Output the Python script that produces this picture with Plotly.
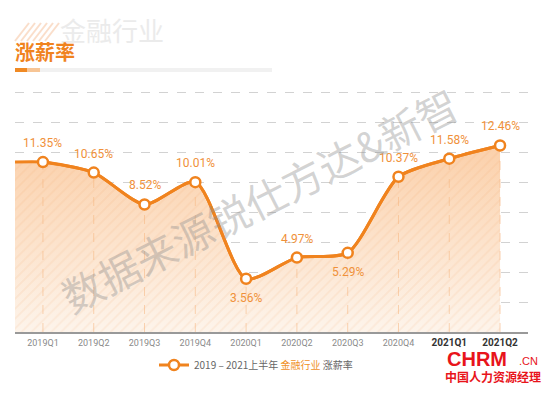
import plotly.graph_objects as go

quarters = ["2019Q1", "2019Q2", "2019Q3", "2019Q4", "2020Q1",
            "2020Q2", "2020Q3", "2020Q4", "2021Q1", "2021Q2"]
rates = [11.35, 10.65, 8.52, 10.01, 3.56, 4.97, 5.29, 10.37, 11.58, 12.46]
label_below = [False, False, False, False, True, False, True, False, False, False]
tick_labels = ["2019Q1", "2019Q2", "2019Q3", "2019Q4", "2020Q1",
               "2020Q2", "2020Q3", "2020Q4",
               "<span style='font-size:10px;color:#333'><b>2021Q1</b></span>",
               "<span style='font-size:10px;color:#333'><b>2021Q2</b></span>"]

ORANGE = "#f0831e"
LABEL_ORANGE = "#f0913a"
CJK = "Noto Sans CJK SC"

xs = list(range(len(quarters)))
x_left = -0.55
# line continues flat to the left edge of the plot
line_x = [x_left] + xs
line_y = [rates[0]] + rates

fig = go.Figure()

# gradient area
fig.add_trace(go.Scatter(
    x=line_x, y=line_y, mode="lines", line=dict(width=0, shape="spline", smoothing=0.7),
    fill="tozeroy",
    fillgradient=dict(type="vertical", start=0, stop=12.5,
                      colorscale=[[0, "rgba(253,244,235,1)"], [1, "rgba(251,208,170,1)"]]),
    showlegend=False, hoverinfo="skip"))

# hatch overlay
fig.add_trace(go.Scatter(
    x=line_x, y=line_y, mode="lines", line=dict(width=0, shape="spline", smoothing=0.7),
    fill="tozeroy", fillcolor="rgba(0,0,0,0)",
    fillpattern=dict(shape="/", fgcolor="rgba(240,150,80,0.22)", bgcolor="rgba(0,0,0,0)",
                     size=7, solidity=0.25),
    showlegend=False, hoverinfo="skip"))

# vertical dashed drop lines
vx, vy = [], []
for x, v in zip(xs, rates):
    vx += [x, x, None]
    vy += [0, v, None]
fig.add_trace(go.Scatter(x=vx, y=vy, mode="lines",
                         line=dict(color="rgba(245,180,125,0.55)", width=1, dash="dash"),
                         showlegend=False, hoverinfo="skip"))

# main line (legend entry)
fig.add_trace(go.Scatter(
    x=line_x, y=line_y, mode="lines", line=dict(color=ORANGE, width=3, shape="spline", smoothing=0.7),
    showlegend=False, hoverinfo="skip"))
fig.add_trace(go.Scatter(
    x=xs, y=rates, mode="lines+markers",
    line=dict(color=ORANGE, width=3, shape="spline", smoothing=0.7),
    marker=dict(size=10, color="white", line=dict(color=ORANGE, width=2.5)),
    name="2019 – 2021上半年 <span style='color:#f0901e'>金融行业</span> 涨薪率",
    showlegend=True))

for x, v, below in zip(xs, rates, label_below):
    fig.add_annotation(x=x, y=v, text=f"{v:.2f}%", showarrow=False,
                       yshift=-19 if below else 19,
                       font=dict(family="Roboto", size=12, color=LABEL_ORANGE))


def px_x(p):
    return (p - 15) / 513


def px_y(p):
    return (332 - p) / 241


# watermark diagonal
fig.add_annotation(xref="paper", yref="paper", x=px_x(259), y=px_y(199),
                   text="数据来源锐仕方达&新智", showarrow=False, textangle=-27,
                   font=dict(family=CJK, size=41, color="rgba(140,140,140,0.38)"))

# title block
fig.add_annotation(xref="paper", yref="paper", x=px_x(58), y=px_y(29),
                   xanchor="left", yanchor="middle", text="金融行业", showarrow=False,
                   font=dict(family=CJK, size=26, color="#ebebeb"))
fig.add_annotation(xref="paper", yref="paper", x=px_x(13), y=px_y(52),
                   xanchor="left", yanchor="middle", text="<b>涨薪率</b>", showarrow=False,
                   font=dict(family=CJK, size=20, color="#f0831e"))

shapes = []
# underline bar
shapes.append(dict(type="rect", xref="paper", yref="paper", x0=px_x(15), x1=px_x(272),
                   y0=px_y(72), y1=px_y(68), fillcolor="#f1f1f1", line=dict(width=0)))
shapes.append(dict(type="rect", xref="paper", yref="paper", x0=px_x(15), x1=px_x(27),
                   y0=px_y(72), y1=px_y(68), fillcolor="#f08a24", line=dict(width=0)))
shapes.append(dict(type="rect", xref="paper", yref="paper", x0=px_x(27), x1=px_x(40),
                   y0=px_y(72), y1=px_y(68), fillcolor="#f7c595", line=dict(width=0)))
# hatched corner square
for k in range(6):
    x0 = 15 + k * 6
    shapes.append(dict(type="line", xref="paper", yref="paper",
                       x0=px_x(x0), y0=px_y(41), x1=px_x(x0 + 14), y1=px_y(23),
                       line=dict(color="rgba(245,190,150,0.5)", width=2)))
fig.update_layout(shapes=shapes)

# logo
fig.add_annotation(xref="paper", yref="paper", x=px_x(445), y=px_y(359), xanchor="left",
                   yanchor="middle", showarrow=False, text="<b>CHRM</b>",
                   font=dict(family="Liberation Sans", size=20, color="#e8141b"))
fig.add_annotation(xref="paper", yref="paper", x=px_x(517), y=px_y(361), xanchor="left",
                   yanchor="middle", showarrow=False, text=".CN",
                   font=dict(family="Liberation Sans", size=11, color="#e8141b"))
fig.add_annotation(xref="paper", yref="paper", x=px_x(493), y=px_y(376), xanchor="center",
                   yanchor="middle", showarrow=False, text="<b>中国人力资源经理</b>",
                   font=dict(family=CJK, size=12, color="#e8141b"))

fig.update_layout(
    width=554, height=393,
    margin=dict(l=15, r=26, t=91, b=61, autoexpand=False),
    paper_bgcolor="white", plot_bgcolor="white",
    font=dict(family=CJK, color="#666"),
    xaxis=dict(range=[x_left, len(xs) - 1 + 0.55], tickmode="array", tickvals=xs,
               ticktext=tick_labels, showgrid=False, zeroline=False,
               showline=True, linecolor="#999", linewidth=2, automargin=False,
               tickfont=dict(family="Roboto", size=9, color="#8a8a8a"), ticks="",
               ticklabelstandoff=1),
    yaxis=dict(range=[0, 16.1], dtick=2, showticklabels=False, zeroline=False,
               automargin=False,
               showgrid=True, gridcolor="#d2d2d2", griddash="dash", gridwidth=1),
    legend=dict(orientation="h", x=px_x(256), xanchor="center", yref="container",
                y=(393 - 365) / 393, yanchor="middle",
                font=dict(family=CJK, size=10, color="#666"), bgcolor="rgba(0,0,0,0)"),
)

fig.write_html("out.html", config={"displayModeBar": False},
               post_script="document.body.style.margin='0';")
